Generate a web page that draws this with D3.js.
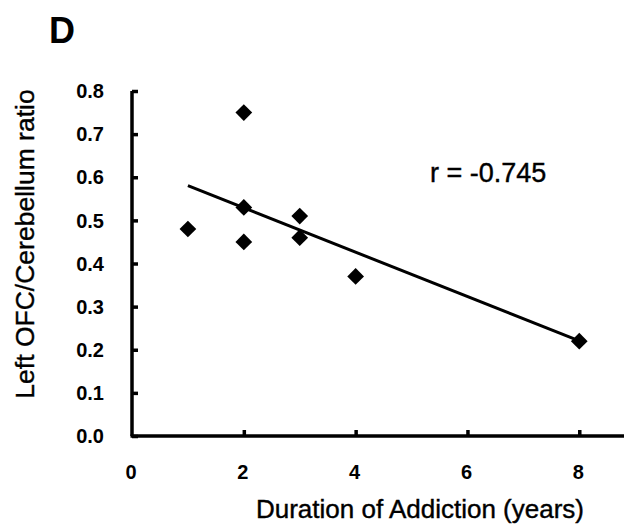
<!DOCTYPE html>
<html>
<head>
<meta charset="utf-8">
<script src="https://cdn.jsdelivr.net/npm/d3@7"></script>
<style>
  body { margin: 0; background: #fff; }
  text { font-family: "Liberation Sans", Arial, sans-serif; fill: #000; }
  .title { stroke: #000; stroke-width: 0.4px; }
</style>
</head>
<body>
<svg id="chart" width="624" height="527"></svg>
<script>
const durationYears = [1, 2, 2, 2, 3, 3, 4, 8]
const ofcRatio = [0.48, 0.75, 0.53, 0.45, 0.51, 0.46, 0.37, 0.22]
const xTicks = [0, 2, 4, 6, 8]
const yTicks = [0, 0.1, 0.2, 0.3, 0.4, 0.5, 0.6, 0.7, 0.8]
const rLabel = "r = -0.745"

const svg = d3.select("#chart")
const plotBottom = 436

const x = d3.scaleLinear().domain([0, 8.8]).range([132, 624])
const y = d3.scaleLinear().domain([0, 0.8]).range([plotBottom, 91])

// panel letter
svg.append("text")
	.attr("x", 49).attr("y", 43)
	.style("font-size", "36px").style("font-weight", "bold")
	.text("D")

// y axis
const yAxis = svg.append("g").attr("transform", `translate(${x(0)},0)`)
	.call(d3.axisRight(y).tickValues(yTicks).tickSize(6).tickFormat(""))
yAxis.select(".domain").attr("d", `M0,${y(0.8)}V${plotBottom}`).attr("stroke-width", 3.5)
yAxis.selectAll(".tick line").attr("stroke-width", 3.5)
svg.append("g").selectAll("text").data(yTicks).join("text")
	.attr("x", 104).attr("y", d => y(d)).attr("dy", "0.36em")
	.attr("text-anchor", "end")
	.style("font-size", "20px").style("font-weight", "bold")
	.text(d => d3.format(".1f")(d))

// x axis
const xAxis = svg.append("g").attr("transform", `translate(0,${plotBottom})`)
	.call(d3.axisTop(x).tickValues(xTicks.filter(d => d > 0)).tickSize(6).tickFormat(""))
xAxis.select(".domain").attr("d", `M${x(0) - 1.5},0H624`).attr("stroke-width", 3.5)
xAxis.selectAll(".tick line").attr("stroke-width", 3.5)
svg.append("g").selectAll("text").data(xTicks).join("text")
	.attr("x", d => x(d) - 1).attr("y", 472).attr("dy", "0.36em")
	.attr("text-anchor", "middle")
	.style("font-size", "20px").style("font-weight", "bold")
	.text(d => d)

// axis titles
svg.append("text").attr("class", "title")
	.attr("transform", `translate(34,244) rotate(-90)`)
	.attr("text-anchor", "middle")
	.style("font-size", "26.5px")
	.text("Left OFC/Cerebellum ratio")
svg.append("text").attr("class", "title")
	.attr("x", 420).attr("y", 518)
	.attr("text-anchor", "middle")
	.style("font-size", "26px")
	.text("Duration of Addiction (years)")

// regression line (least squares)
const points = durationYears.map((d, i) => ({ x: d, y: ofcRatio[i] }))
const mx = d3.mean(points, d => d.x)
const my = d3.mean(points, d => d.y)
const slope = d3.sum(points, d => (d.x - mx) * (d.y - my)) / d3.sum(points, d => (d.x - mx) ** 2)
const intercept = my - slope * mx
const [x0, x1] = d3.extent(durationYears)
svg.append("line")
	.attr("x1", x(x0)).attr("y1", y(intercept + slope * x0))
	.attr("x2", x(x1)).attr("y2", y(intercept + slope * x1))
	.attr("stroke", "#000").attr("stroke-width", 3)

// points
const diamond = d3.symbol().type(d3.symbolSquare).size(140)
svg.append("g").selectAll("path").data(points).join("path")
	.attr("transform", d => `translate(${x(d.x)},${y(d.y)}) rotate(45)`)
	.attr("d", diamond)
	.attr("fill", "#000")

svg.append("text").attr("class", "title")
	.attr("x", 430).attr("y", 182)
	.style("font-size", "27px")
	.text(rLabel)
</script>
</body>
</html>
